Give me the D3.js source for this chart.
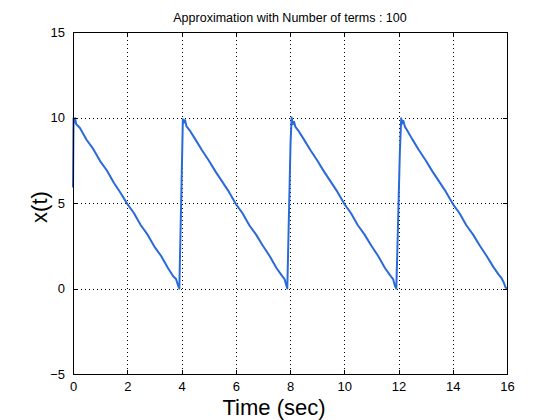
<!DOCTYPE html>
<html>
<head>
<meta charset="utf-8">
<script src="https://cdn.jsdelivr.net/npm/d3@7/dist/d3.min.js"></script>
<style>
  html, body { margin: 0; padding: 0; background: #fff; }
  svg { display: block; }
  text { font-family: "Liberation Sans", Arial, Helvetica, sans-serif; fill: #000; }
</style>
</head>
<body>
<svg id="chart" width="560" height="420"></svg>
<script>
// ---- data ----
const titleText = "Approximation with Number of terms : 100";
const xLabelText = "Time (sec)";
const yLabelText = "x(t)";
const xTicks = [0, 2, 4, 6, 8, 10, 12, 14, 16];
const yTicks = [-5, 0, 5, 10, 15];
const xDomain = [0, 16];
const yDomain = [-5, 15];

const timeSec = [
  0.00, 0.02, 0.05, 0.08, 0.12, 0.25, 0.50, 0.75, 1.00, 1.25, 1.50, 1.75, 2.00, 2.25, 2.50, 2.75, 3.00, 3.25, 3.50, 3.70, 3.80, 3.88, 3.92,
  3.96, 4.00, 4.05, 4.09, 4.13, 4.18, 4.30, 4.50, 4.75, 5.00, 5.25, 5.50, 5.75, 6.00, 6.25, 6.50, 6.75, 7.00, 7.25, 7.50, 7.70, 7.80, 7.87, 7.90,
  7.95, 8.02, 8.06, 8.10, 8.15, 8.20, 8.30, 8.50, 8.75, 9.00, 9.25, 9.50, 9.75, 10.00, 10.25, 10.50, 10.75, 11.00, 11.25, 11.50, 11.70, 11.80, 11.87, 11.92,
  11.97, 12.05, 12.10, 12.14, 12.18, 12.24, 12.30, 12.50, 12.75, 13.00, 13.25, 13.50, 13.75, 14.00, 14.25, 14.50, 14.75, 15.00, 15.25, 15.50, 15.70, 15.80, 15.88, 15.95, 16.00
];
const xValues = [
  5.9, 9.95, 9.7, 9.95, 9.6, 9.4, 8.7, 8.15, 7.45, 6.9, 6.2, 5.6, 4.95, 4.4, 3.7, 3.15, 2.45, 1.9, 1.2, 0.7, 0.55, 0.15, 0.0,
  3.0, 6.0, 9.9, 9.7, 9.85, 9.5, 9.25, 8.75, 8.1, 7.5, 6.85, 6.25, 5.65, 4.95, 4.4, 3.7, 3.15, 2.5, 1.9, 1.2, 0.75, 0.55, 0.15, 0.0,
  3.5, 8.5, 10.0, 9.6, 9.75, 9.45, 9.25, 8.75, 8.1, 7.5, 6.85, 6.25, 5.65, 4.95, 4.4, 3.7, 3.15, 2.5, 1.9, 1.2, 0.75, 0.55, 0.15, 0.0,
  3.0, 8.0, 9.95, 9.65, 9.8, 9.45, 9.3, 8.75, 8.1, 7.5, 6.85, 6.25, 5.65, 4.95, 4.4, 3.7, 3.15, 2.5, 1.9, 1.25, 0.8, 0.6, 0.35, 0.05, 0.0
];

// ---- layout ----
const svg = d3.select("#chart");
const padL = 73, padR = 507, padT = 32, padB = 374;
const tickLen = 4.5;

const x = d3.scaleLinear().domain(xDomain).range([padL, padR]);
const y = d3.scaleLinear().domain(yDomain).range([padB, padT]);

// grid
const grid = svg.append("g").attr("stroke", "#000").attr("stroke-width", 1)
  .attr("stroke-dasharray", "1,3").attr("shape-rendering", "crispEdges");
grid.selectAll(".gx").data(xTicks).enter().append("line")
  .attr("x1", d => Math.round(x(d)) + 0.5).attr("x2", d => Math.round(x(d)) + 0.5)
  .attr("y1", padT).attr("y2", padB);
grid.selectAll(".gy").data(yTicks).enter().append("line")
  .attr("y1", d => Math.round(y(d)) + 0.5).attr("y2", d => Math.round(y(d)) + 0.5)
  .attr("x1", padL).attr("x2", padR);

// signal line
const pts = timeSec.map((t, i) => [t, xValues[i]]);
svg.append("path")
  .datum(pts)
  .attr("fill", "none")
  .attr("stroke", "#2a6ad8")
  .attr("stroke-width", 2)
  .attr("stroke-linejoin", "round")
  .attr("d", d3.line().x(d => x(d[0])).y(d => y(d[1])));

// axes (ticks inward)
function styleAxis(g, showLabels) {
  g.select(".domain").remove();
  g.selectAll(".tick line").attr("stroke", "#000").attr("shape-rendering", "crispEdges");
  g.selectAll(".tick text").attr("font-size", 13).attr("font-family", "Liberation Sans, Arial, sans-serif");
  if (!showLabels) g.selectAll(".tick text").remove();
}
svg.append("g").attr("transform", `translate(0,${padB})`)
  .call(d3.axisBottom(x).tickValues(xTicks).tickSize(-tickLen).tickPadding(8).tickFormat(d3.format("d")))
  .call(g => styleAxis(g, true));
svg.append("g").attr("transform", `translate(0,${padT})`)
  .call(d3.axisTop(x).tickValues(xTicks).tickSize(-tickLen))
  .call(g => styleAxis(g, false));
svg.append("g").attr("transform", `translate(${padL},0)`)
  .call(d3.axisLeft(y).tickValues(yTicks).tickSize(-tickLen).tickPadding(8).tickFormat(d3.format("d")))
  .call(g => styleAxis(g, true));
svg.append("g").attr("transform", `translate(${padR},0)`)
  .call(d3.axisRight(y).tickValues(yTicks).tickSize(-tickLen))
  .call(g => styleAxis(g, false));

// box
svg.append("rect").attr("x", padL + 0.5).attr("y", padT + 0.5)
  .attr("width", padR - padL).attr("height", padB - padT)
  .attr("fill", "none").attr("stroke", "#000").attr("stroke-width", 1)
  .attr("shape-rendering", "crispEdges");

// texts
svg.append("text").attr("x", (padL + padR) / 2).attr("y", 22)
  .attr("text-anchor", "middle").attr("font-size", 12.5).text(titleText);
svg.append("text").attr("x", 274).attr("y", 415)
  .attr("text-anchor", "middle").attr("font-size", 22).text(xLabelText);
svg.append("text").attr("transform", `translate(47,207) rotate(-90)`)
  .attr("text-anchor", "middle").attr("font-size", 22).text(yLabelText);
</script>
</body>
</html>
